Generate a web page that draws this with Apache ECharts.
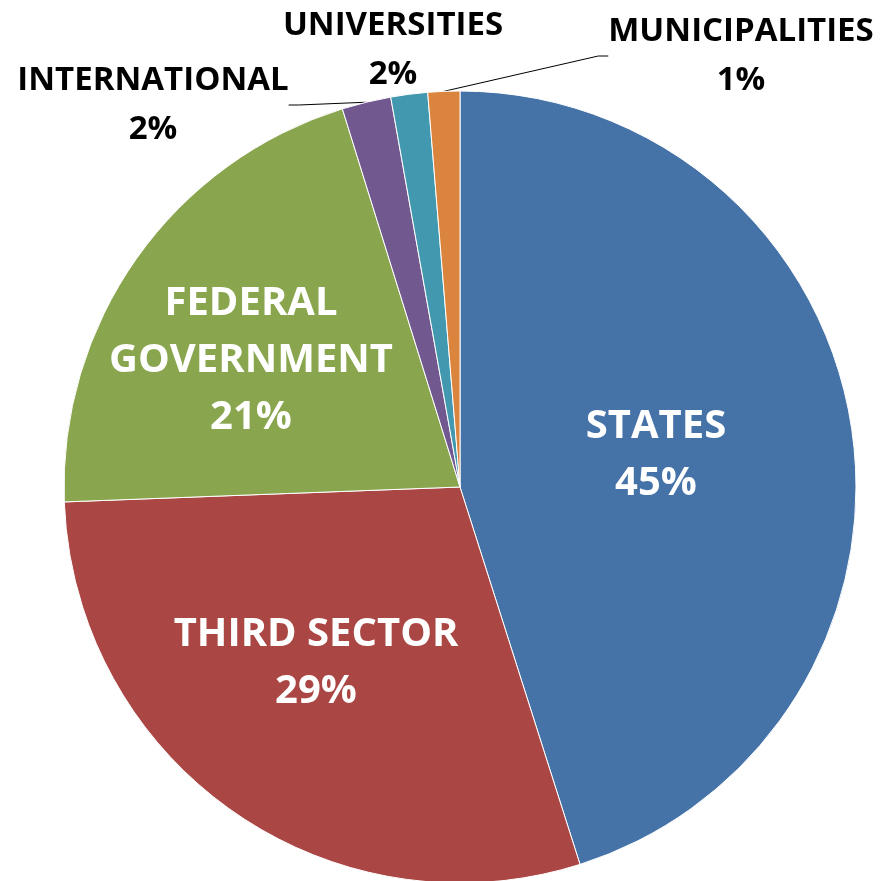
<!DOCTYPE html>
<html><head><meta charset="utf-8">
<script src="https://cdn.jsdelivr.net/npm/echarts@6/dist/echarts.min.js"></script>
<style>html,body{margin:0;padding:0;background:#fff}#c{width:893px;height:881px}</style>
</head><body><div id="c"></div>
<script>
// Data (clockwise from 12 o'clock)
const categories = ['STATES', 'THIRD SECTOR', 'FEDERAL GOVERNMENT', 'INTERNATIONAL', 'UNIVERSITIES', 'MUNICIPALITIES'];
const shares = [45.1, 29.3, 20.8, 2.0, 1.5, 1.3];
const colors = ['#4572A7', '#AA4643', '#89A54E', '#71588F', '#4198AF', '#DB843D'];
const insideSet = [true, true, true, false, false, false];

// label block centres (layout only)
const labelPos = [[656, 455], [316, 663], [251, 361], [153, 105], [393, 50], [741, 56]];

const FONT = '"Open Sans", "DejaVu Sans", sans-serif';

const data = categories.map((name, i) => {
  const inside = insideSet[i];
  return {
    name: name,
    value: shares[i],
    itemStyle: { color: colors[i] },
    label: inside ? {
      position: 'inside', color: '#fff', fontSize: 40, fontWeight: 'bold',
      fontFamily: FONT, lineHeight: 57, align: 'center'
    } : {
      position: 'outside', color: '#000', fontSize: 33, fontWeight: 'bold',
      fontFamily: FONT, lineHeight: 49, align: 'center'
    },
    labelLine: { show: !inside && name !== 'UNIVERSITIES' }
  };
});

const chart = echarts.init(document.getElementById('c'), null, { renderer: 'canvas' });
chart.setOption({
  animation: false,
  backgroundColor: '#fff',
  series: [{
    type: 'pie',
    center: [460, 487],
    radius: 396,
    startAngle: 90,
    clockwise: true,
    avoidLabelOverlap: false,
    itemStyle: { borderColor: '#fff', borderWidth: 1 },
    label: {
      show: true,
      formatter: p => p.name.replace('FEDERAL ', 'FEDERAL\n') + '\n' + Math.round(p.percent) + '%'
    },
    labelLine: { show: true, length: 10, length2: 10, lineStyle: { color: '#000', width: 1 } },
    labelLayout: function (params) {
      const pos = labelPos[params.dataIndex];
      return { x: pos[0], y: pos[1], align: 'center', verticalAlign: 'middle' };
    },
    emphasis: { disabled: true },
    data: data
  }]
});
</script>
</body></html>
